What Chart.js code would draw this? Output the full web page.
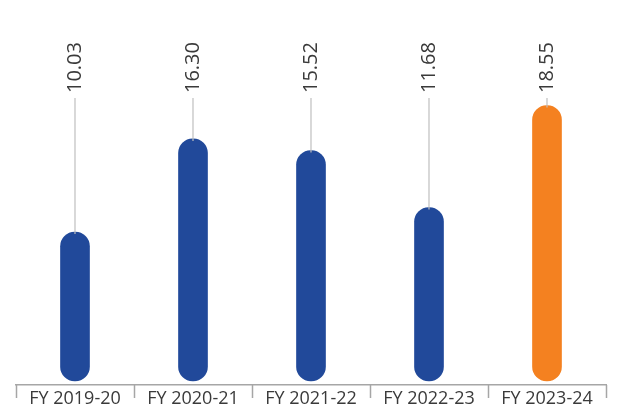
<!DOCTYPE html>
<html>
<head>
<meta charset="utf-8">
<script src="https://cdn.jsdelivr.net/npm/chart.js@4"></script>
<style>
  html, body { margin: 0; padding: 0; background: #fff; }
  #wrap { width: 619px; height: 411px; }
</style>
</head>
<body>
<div id="wrap"><canvas id="chart"></canvas></div>
<script>
const years = ['FY 2019-20', 'FY 2020-21', 'FY 2021-22', 'FY 2022-23', 'FY 2023-24'];
const values = [10.03, 16.30, 15.52, 11.68, 18.55];
const barColors = ['#21499a', '#21499a', '#21499a', '#21499a', '#f48120'];

const FONT = "'Open Sans', 'DejaVu Sans', sans-serif";
const AXIS_GREY = '#a6a6a6';

// value labels sit rotated at a fixed height, joined to each bar by a thin line
const leaderLabels = {
    id: 'leaderLabels',
    afterDatasetsDraw(chart) {
        const ctx = chart.ctx;
        const meta = chart.getDatasetMeta(0);
        const labelBase = 93;
        ctx.save();
        meta.data.forEach((bar, i) => {
            ctx.strokeStyle = '#bfbfbf';
            ctx.lineWidth = 1.2;
            ctx.beginPath();
            ctx.moveTo(bar.x, bar.y + 2);
            ctx.lineTo(bar.x, labelBase + 5);
            ctx.stroke();

            ctx.save();
            ctx.translate(bar.x, labelBase);
            ctx.rotate(-Math.PI / 2);
            ctx.fillStyle = '#3a3a3a';
            ctx.font = '20px ' + FONT;
            ctx.textAlign = 'left';
            ctx.textBaseline = 'middle';
            ctx.fillText(values[i].toFixed(2), 0, 0);
            ctx.restore();
        });
        ctx.restore();
    }
};

// short dividers hanging below the axis between the categories
const categoryDividers = {
    id: 'categoryDividers',
    afterDraw(chart) {
        const ctx = chart.ctx;
        const xs = chart.scales.x;
        const step = xs.getPixelForValue(1) - xs.getPixelForValue(0);
        const y0 = chart.chartArea.bottom;
        ctx.save();
        ctx.strokeStyle = AXIS_GREY;
        ctx.lineWidth = 1.5;
        for (let i = 0; i <= years.length; i++) {
            const x = Math.round(xs.getPixelForValue(0) - step / 2 + i * step) + 0.5;
            ctx.beginPath();
            ctx.moveTo(x, y0);
            ctx.lineTo(x, y0 + 13);
            ctx.stroke();
        }
        ctx.restore();
    }
};

const ctx = document.getElementById('chart').getContext('2d');
new Chart(ctx, {
    type: 'bar',
    data: {
        labels: years,
        datasets: [{
            data: values,
            backgroundColor: barColors,
            borderRadius: 15,
            borderSkipped: false,
            barThickness: 29
        }]
    },
    options: {
        responsive: true,
        maintainAspectRatio: false,
        animation: false,
        layout: { padding: { top: 40, left: 16, right: 13, bottom: 0 } },
        plugins: {
            legend: { display: false },
            tooltip: { enabled: false }
        },
        scales: {
            x: {
                afterFit(scale) { scale.height = 26; },
                grid: {
                    display: false,
                    drawTicks: false
                },
                border: { color: AXIS_GREY, width: 1.5 },
                ticks: {
                    color: '#3a3a3a',
                    font: { family: FONT, size: 18 },
                    padding: 3,
                    maxRotation: 0
                }
            },
            y: {
                display: false,
                min: -0.27,
                max: 22.96
            }
        }
    },
    plugins: [leaderLabels, categoryDividers]
});
</script>
</body>
</html>
